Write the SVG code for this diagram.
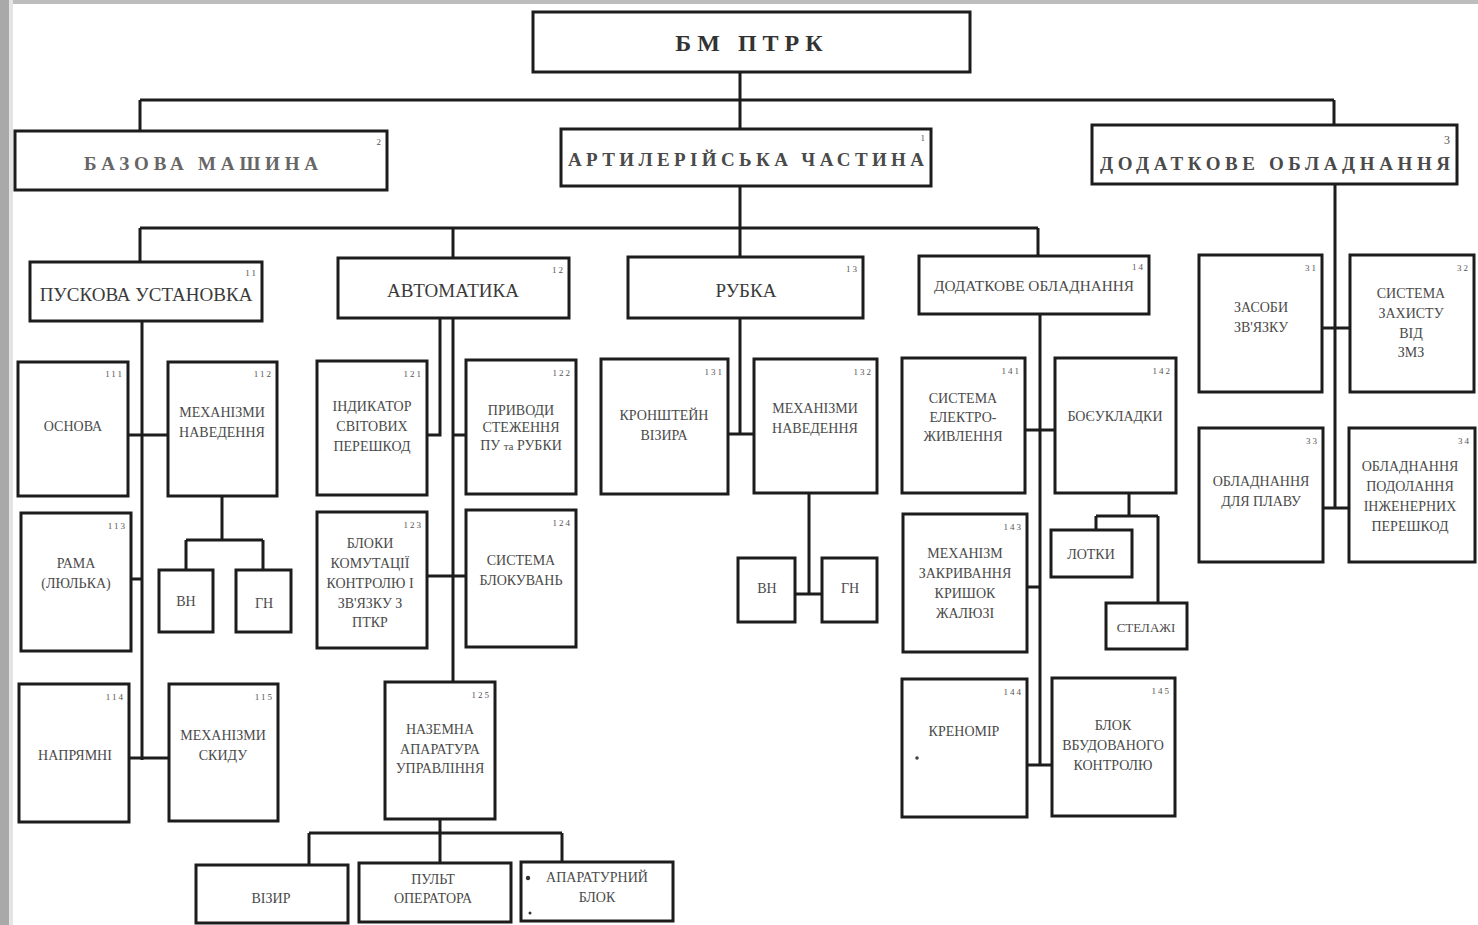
<svg xmlns="http://www.w3.org/2000/svg" width="1478" height="925" viewBox="0 0 1478 925">
<defs>
<style>
.b{fill:#fff;stroke:#1c1c1c;stroke-width:3}
.c{fill:none;stroke:#1c1c1c;stroke-width:3}
.t{font-family:"Liberation Serif",serif;font-size:14px;fill:#4a4a4a;text-anchor:middle}
.m{font-family:"Liberation Serif",serif;font-size:19px;fill:#3a3a3a;text-anchor:middle}
.h{font-family:"Liberation Serif",serif;font-size:19px;font-weight:bold;fill:#4a4a4a;text-anchor:start}
.n{font-family:"Liberation Serif",serif;font-size:9px;fill:#555;text-anchor:end;letter-spacing:2px}
</style>
</defs>
<rect x="0" y="0" width="1478" height="925" fill="#fff"/>
<rect x="0" y="0" width="1478" height="4" fill="#bdbdbd"/>
<rect x="0" y="0" width="9" height="925" fill="#a9a9a9"/>
<rect x="9" y="0" width="4" height="925" fill="#e4e4e4"/>

<g id="connectors">
<path class="c" d="M740 72V100M140 100H1334M140 100V131M740 100V129M1334 100V125"/>
<path class="c" d="M740 186V228M140 228H1038M140 228V262M453 228V258M740 228V257M1038 228V256"/>
<path class="c" d="M142 321V760M128 435H168M131 579H142M129 758H169M222 496V540M186 540H263M186 540V570M263 540V570"/>
<path class="c" d="M440 318V435H427M453 318V682M453 435H466M427 576H466M440 819V833M309 833H562M309 833V865M440 833V863M562 833V862"/>
<path class="c" d="M740 318V434M728 434H754M809 493V594M795 594H822"/>
<path class="c" d="M1040 314V765M1025 430H1055M1027 587H1040M1027 765H1052M1129 493V516M1096 516H1158M1096 516V530M1158 516V603"/>
<path class="c" d="M1335 184V508M1322 328H1350M1323 508H1349"/>
</g>

<g id="bm"><rect class="b" x="533" y="12" width="437" height="60"/><text x="752" y="51" font-family="Liberation Serif,serif" font-size="24" font-weight="bold" fill="#333" text-anchor="middle" letter-spacing="6">БМ  ПТРК</text></g>

<g id="n2"><rect class="b" x="15" y="131" width="372" height="59"/><text class="h" x="84" y="170" textLength="234" lengthAdjust="spacing" style="fill:#666">БАЗОВА  МАШИНА</text><text class="n" x="383" y="145">2</text></g>
<g id="n1"><rect class="b" x="561" y="129" width="370" height="57"/><text class="h" x="568" y="166" textLength="356" lengthAdjust="spacing">АРТИЛЕРІЙСЬКА  ЧАСТИНА</text><text class="n" x="927" y="141">1</text></g>
<g id="n3"><rect class="b" x="1092" y="125" width="365" height="59"/><text class="h" x="1100" y="170" textLength="350" lengthAdjust="spacing">ДОДАТКОВЕ  ОБЛАДНАННЯ</text><text class="n" x="1452" y="144" style="font-size:12px">3</text></g>

<g id="n11"><rect class="b" x="30" y="262" width="232" height="59"/><text class="m" x="146" y="301">ПУСКОВА УСТАНОВКА</text><text class="n" x="258" y="276">11</text></g>
<g id="n12"><rect class="b" x="338" y="258" width="231" height="60"/><text class="m" x="453" y="297">АВТОМАТИКА</text><text class="n" x="565" y="273">12</text></g>
<g id="n13"><rect class="b" x="628" y="257" width="235" height="61"/><text class="m" x="746" y="297">РУБКА</text><text class="n" x="859" y="272">13</text></g>
<g id="n14"><rect class="b" x="919" y="256" width="230" height="58"/><text class="t" x="1034" y="291" style="font-size:15px" textLength="200" lengthAdjust="spacingAndGlyphs">ДОДАТКОВЕ ОБЛАДНАННЯ</text><text class="n" x="1145" y="270">14</text></g>

<g id="n111"><rect class="b" x="18" y="362" width="110" height="134"/><text class="t" x="73" y="431">ОСНОВА</text><text class="n" x="124" y="377">111</text></g>
<g id="n112"><rect class="b" x="168" y="362" width="109" height="134"/><text class="t" x="222" y="417">МЕХАНІЗМИ</text><text class="t" x="222" y="437">НАВЕДЕННЯ</text><text class="n" x="273" y="377">112</text></g>
<g id="n113"><rect class="b" x="21" y="513" width="110" height="138"/><text class="t" x="76" y="568">РАМА</text><text class="t" x="76" y="588">(ЛЮЛЬКА)</text><text class="n" x="127" y="529">113</text></g>
<g id="n1121"><rect class="b" x="159" y="570" width="54" height="62"/><text class="t" x="186" y="606">ВН</text></g>
<g id="n1122"><rect class="b" x="236" y="570" width="55" height="62"/><text class="t" x="264" y="608">ГН</text></g>
<g id="n114"><rect class="b" x="19" y="684" width="110" height="138"/><text class="t" x="75" y="760">НАПРЯМНІ</text><text class="n" x="125" y="700">114</text></g>
<g id="n115"><rect class="b" x="169" y="684" width="109" height="137"/><text class="t" x="223" y="740">МЕХАНІЗМИ</text><text class="t" x="223" y="760">СКИДУ</text><text class="n" x="274" y="700">115</text></g>

<g id="n121"><rect class="b" x="317" y="361" width="110" height="134"/><text class="t" x="372" y="411">ІНДИКАТОР</text><text class="t" x="372" y="431">СВІТОВИХ</text><text class="t" x="372" y="451">ПЕРЕШКОД</text><text class="n" x="423" y="377">121</text></g>
<g id="n122"><rect class="b" x="466" y="360" width="110" height="134"/><text class="t" x="521" y="415">ПРИВОДИ</text><text class="t" x="521" y="432">СТЕЖЕННЯ</text><text class="t" x="521" y="450">ПУ <tspan font-size="11">та</tspan> РУБКИ</text><text class="n" x="572" y="376">122</text></g>
<g id="n123"><rect class="b" x="317" y="512" width="110" height="136"/><text class="t" x="370" y="548">БЛОКИ</text><text class="t" x="370" y="568">КОМУТАЦІЇ</text><text class="t" x="370" y="588">КОНТРОЛЮ І</text><text class="t" x="370" y="608">ЗВ'ЯЗКУ З</text><text class="t" x="370" y="627">ПТКР</text><text class="n" x="423" y="528">123</text></g>
<g id="n124"><rect class="b" x="466" y="510" width="110" height="137"/><text class="t" x="521" y="565">СИСТЕМА</text><text class="t" x="521" y="585">БЛОКУВАНЬ</text><text class="n" x="572" y="526">124</text></g>
<g id="n125"><rect class="b" x="385" y="682" width="110" height="137"/><text class="t" x="440" y="734">НАЗЕМНА</text><text class="t" x="440" y="754">АПАРАТУРА</text><text class="t" x="440" y="773">УПРАВЛІННЯ</text><text class="n" x="491" y="698">125</text></g>
<g id="n1251"><rect class="b" x="196" y="865" width="152" height="58"/><text class="t" x="271" y="903">ВІЗИР</text></g>
<g id="n1252"><rect class="b" x="359" y="863" width="152" height="59"/><text class="t" x="433" y="884">ПУЛЬТ</text><text class="t" x="433" y="903">ОПЕРАТОРА</text></g>
<g id="n1253"><rect class="b" x="521" y="862" width="152" height="59"/><text class="t" x="597" y="882">АПАРАТУРНИЙ</text><text class="t" x="597" y="902">БЛОК</text><circle cx="528" cy="878" r="2.2" fill="#333"/><circle cx="530" cy="913" r="1.5" fill="#333"/></g>

<g id="n131"><rect class="b" x="601" y="359" width="127" height="135"/><text class="t" x="664" y="420">КРОНШТЕЙН</text><text class="t" x="664" y="440">ВІЗИРА</text><text class="n" x="724" y="375">131</text></g>
<g id="n132"><rect class="b" x="754" y="359" width="123" height="134"/><text class="t" x="815" y="413">МЕХАНІЗМИ</text><text class="t" x="815" y="433">НАВЕДЕННЯ</text><text class="n" x="873" y="375">132</text></g>
<g id="n1321"><rect class="b" x="738" y="558" width="57" height="64"/><text class="t" x="767" y="593">ВН</text></g>
<g id="n1322"><rect class="b" x="822" y="558" width="55" height="64"/><text class="t" x="850" y="593">ГН</text></g>

<g id="n141"><rect class="b" x="902" y="358" width="123" height="135"/><text class="t" x="963" y="403">СИСТЕМА</text><text class="t" x="963" y="422">ЕЛЕКТРО-</text><text class="t" x="963" y="441">ЖИВЛЕННЯ</text><text class="n" x="1021" y="374">141</text></g>
<g id="n142"><rect class="b" x="1055" y="358" width="121" height="135"/><text class="t" x="1115" y="421">БОЄУКЛАДКИ</text><text class="n" x="1172" y="374">142</text></g>
<g id="n1421"><rect class="b" x="1051" y="530" width="81" height="47"/><text class="t" x="1091" y="559">ЛОТКИ</text></g>
<g id="n1422"><rect class="b" x="1106" y="603" width="81" height="46"/><text class="t" x="1146" y="632" style="font-size:13px">СТЕЛАЖІ</text></g>
<g id="n143"><rect class="b" x="903" y="514" width="124" height="138"/><text class="t" x="965" y="558">МЕХАНІЗМ</text><text class="t" x="965" y="578">ЗАКРИВАННЯ</text><text class="t" x="965" y="598">КРИШОК</text><text class="t" x="965" y="618">ЖАЛЮЗІ</text><text class="n" x="1023" y="530">143</text></g>
<g id="n144"><rect class="b" x="902" y="679" width="125" height="138"/><text class="t" x="964" y="736">КРЕНОМІР</text><text class="n" x="1023" y="695">144</text><circle cx="917" cy="758" r="1.8" fill="#444"/></g>
<g id="n145"><rect class="b" x="1052" y="678" width="123" height="138"/><text class="t" x="1113" y="730">БЛОК</text><text class="t" x="1113" y="750">ВБУДОВАНОГО</text><text class="t" x="1113" y="770">КОНТРОЛЮ</text><text class="n" x="1171" y="694">145</text></g>

<g id="n31"><rect class="b" x="1199" y="255" width="123" height="137"/><text class="t" x="1261" y="312">ЗАСОБИ</text><text class="t" x="1261" y="332">ЗВ'ЯЗКУ</text><text class="n" x="1318" y="271">31</text></g>
<g id="n32"><rect class="b" x="1350" y="255" width="124" height="137"/><text class="t" x="1411" y="298">СИСТЕМА</text><text class="t" x="1411" y="318">ЗАХИСТУ</text><text class="t" x="1411" y="338">ВІД</text><text class="t" x="1411" y="357">ЗМЗ</text><text class="n" x="1470" y="271">32</text></g>
<g id="n33"><rect class="b" x="1199" y="428" width="124" height="134"/><text class="t" x="1261" y="486">ОБЛАДНАННЯ</text><text class="t" x="1261" y="506">ДЛЯ ПЛАВУ</text><text class="n" x="1319" y="444">33</text></g>
<g id="n34"><rect class="b" x="1349" y="428" width="126" height="134"/><text class="t" x="1410" y="471">ОБЛАДНАННЯ</text><text class="t" x="1410" y="491">ПОДОЛАННЯ</text><text class="t" x="1410" y="511">ІНЖЕНЕРНИХ</text><text class="t" x="1410" y="531">ПЕРЕШКОД</text><text class="n" x="1471" y="444">34</text></g>
</svg>
